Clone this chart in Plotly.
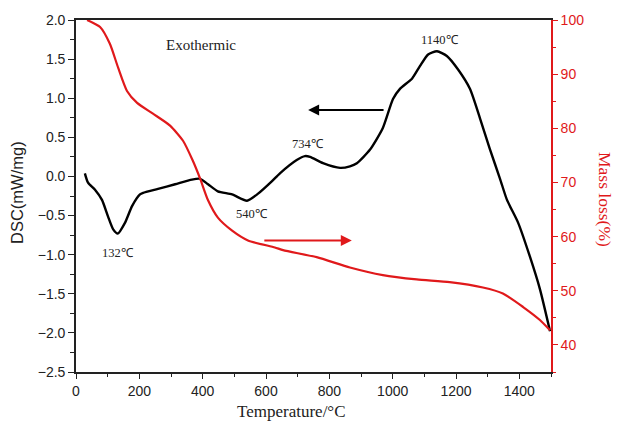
import plotly.graph_objects as go

# DSC curve (black, left axis)
dsc_T = [28, 38, 60, 82, 101, 118, 132, 155, 177, 202, 212, 259, 313, 366, 392, 417, 448, 493, 540,
         575, 619, 644, 697, 723, 739, 780, 834, 865, 887, 928, 969, 1001, 1023, 1061, 1086, 1112,
         1140, 1171, 1206, 1244, 1276, 1307, 1339, 1361, 1396, 1433, 1465, 1497]
dsc_v = [0.04, -0.08, -0.17, -0.30, -0.51, -0.68, -0.73, -0.59, -0.38, -0.23, -0.21, -0.16, -0.10,
         -0.04, -0.03, -0.10, -0.19, -0.23, -0.31, -0.22, -0.06, 0.04, 0.21, 0.26, 0.25, 0.17, 0.11,
         0.13, 0.17, 0.34, 0.62, 0.99, 1.12, 1.25, 1.41, 1.56, 1.60, 1.54, 1.37, 1.12, 0.74, 0.35,
         -0.03, -0.30, -0.59, -1.02, -1.44, -1.98]

# Mass curve (red, right axis)
mass_T = [35, 76, 107, 133, 161, 193, 243, 297, 338, 369, 392, 417, 448, 493, 543, 628, 654, 760,
          865, 969, 1076, 1180, 1285, 1348, 1412, 1465, 1497]
mass_v = [100, 98.7, 95.6, 91.2, 86.9, 84.7, 82.7, 80.5, 77.7, 74.0, 70.7, 66.7, 63.5, 61.1, 59.3,
          58.0, 57.5, 56.2, 54.3, 52.9, 52.1, 51.6, 50.6, 49.5, 47.0, 44.6, 42.7]

peak_T = [132, 555, 734, 1150]
peak_labels = ["132℃", "540℃", "734℃", "1140℃"]
peak_label_y = [-0.98, -0.48, 0.41, 1.75]

serif = "Liberation Serif"
sans = "Liberation Sans"
red = "#e0191b"

fig = go.Figure()
fig.add_trace(go.Scatter(x=dsc_T, y=dsc_v, mode="lines",
                         line=dict(color="black", width=2.4, shape="spline", smoothing=0.6),
                         showlegend=False))
fig.add_trace(go.Scatter(x=mass_T, y=mass_v, mode="lines", yaxis="y2",
                         line=dict(color=red, width=2.2, shape="spline", smoothing=0.6), showlegend=False))

ann = []
for t, lab, yy in zip(peak_T, peak_labels, peak_label_y):
    ann.append(dict(x=t, y=yy, xref="x", yref="y", text=lab, showarrow=False,
                    font=dict(family=serif, size=12.5, color="#222")))
ann.append(dict(x=395, y=1.68, xref="x", yref="y", text="Exothermic", showarrow=False,
                font=dict(family=serif, size=15, color="#222")))
# black arrow pointing left
ann.append(dict(x=733, y=0.85, ax=976, ay=0.85, xref="x", yref="y", axref="x", ayref="y", text="",
                showarrow=True, arrowhead=2, arrowsize=1.1, arrowwidth=2, arrowcolor="black"))
# red arrow pointing right
ann.append(dict(x=871, y=-0.82, ax=590, ay=-0.82, xref="x", yref="y", axref="x", ayref="y", text="",
                showarrow=True, arrowhead=2, arrowsize=1.1, arrowwidth=2, arrowcolor=red))
# axis titles
ann.append(dict(x=(605 - 76) / 475, y=(372 - 199) / 352, xref="paper", yref="paper", text="Mass loss(%)",
                textangle=90, xanchor="center", yanchor="middle",
                showarrow=False, font=dict(family=serif, size=17.5, color=red)))
ann.append(dict(x=(17 - 76) / 475, y=(372 - 193) / 352, xref="paper", yref="paper", text="DSC(mW/mg)",
                textangle=-90, xanchor="center", yanchor="middle",
                showarrow=False, font=dict(family=sans, size=16.5, color="#222")))
ann.append(dict(x=(291 - 76) / 475, y=(372 - 412) / 352, xref="paper", yref="paper", text="Temperature/°C",
                xanchor="center", yanchor="middle",
                showarrow=False, font=dict(family=serif, size=17, color="#222")))

fig.update_layout(
    width=618, height=423,
    margin=dict(l=76, r=67, t=20, b=51),
    paper_bgcolor="white", plot_bgcolor="white",
    annotations=ann,
    xaxis=dict(range=[0, 1500], tickvals=[0, 200, 400, 600, 800, 1000, 1200, 1400], showgrid=False,
               zeroline=False, showline=True, linecolor="#222", linewidth=1.6, mirror=True,
               ticks="outside", ticklen=5, tickcolor="#222",
               minor=dict(dtick=100, ticks="outside", ticklen=3, tickcolor="#222"),
               tickfont=dict(family=sans, size=14, color="#222")),
    yaxis=dict(range=[-2.5, 2.0], dtick=0.5, tickformat=".1f", showgrid=False, zeroline=False,
               showline=True, linecolor="#222", linewidth=1.6, ticks="outside", ticklen=6, tickcolor="#222",
               minor=dict(dtick=0.25, ticks="outside", ticklen=4, tickcolor="#222"),
               tickfont=dict(family=sans, size=14, color="#222")),
    yaxis2=dict(range=[35, 100], tickvals=[40, 50, 60, 70, 80, 90, 100], overlaying="y", side="right",
                showgrid=False, zeroline=False, showline=True, linecolor=red, linewidth=1.6,
                ticks="outside", ticklen=5, tickcolor=red,
                minor=dict(dtick=5, ticks="outside", ticklen=3, tickcolor=red),
                tickfont=dict(family=sans, size=14, color=red)),
)

fig.write_html("out.html")
